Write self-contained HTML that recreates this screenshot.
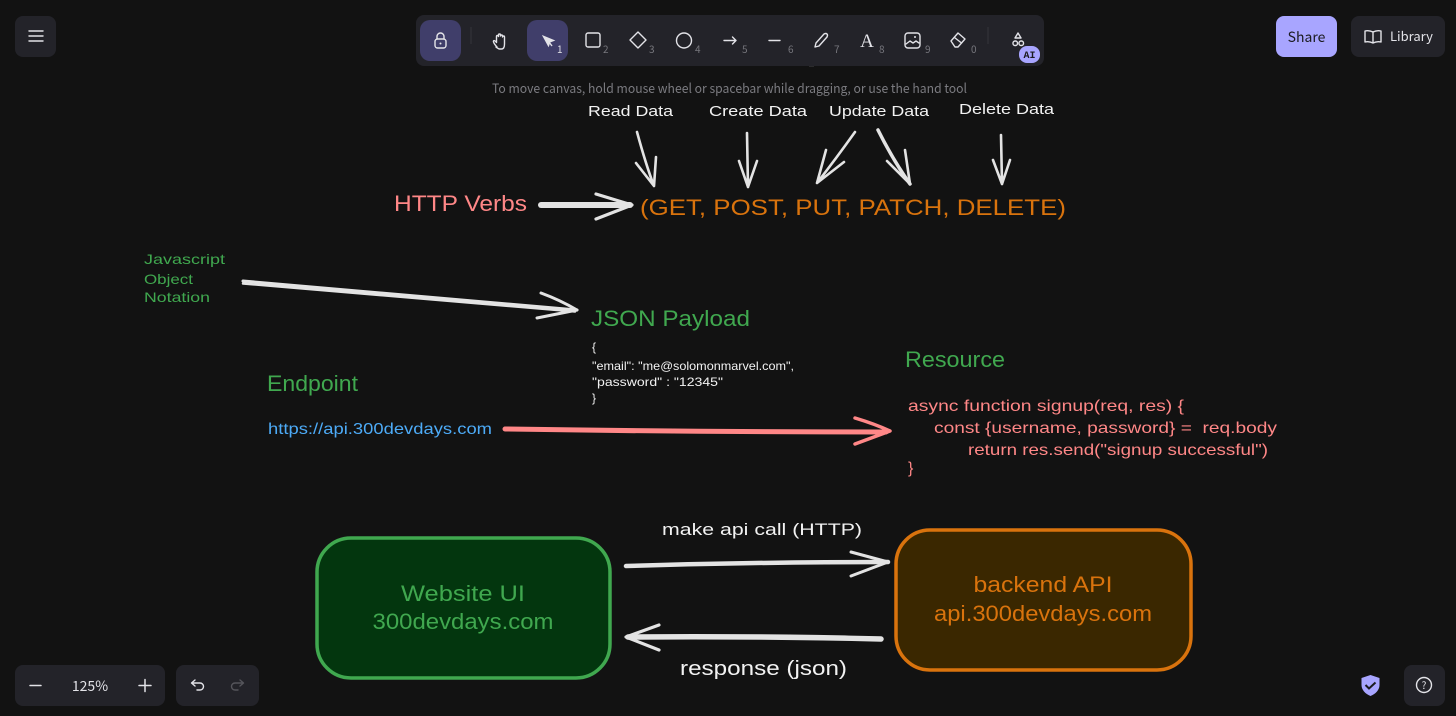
<!DOCTYPE html>
<html><head><meta charset="utf-8"><style>
html,body{margin:0;padding:0;background:#121212;width:1456px;height:716px;overflow:hidden}
svg{display:block}
.h{font-family:"Liberation Sans","DejaVu Sans",sans-serif}
.u{font-family:"Noto Sans CJK JP","Liberation Sans",sans-serif}
.ar{fill:none;stroke:#e3e3e3;stroke-linecap:round;stroke-linejoin:round}
.ic{fill:none;stroke:#e3e3e8;stroke-width:1.4;stroke-linecap:round;stroke-linejoin:round}
.n{font-size:10px;fill:#77777d}
</style></head><body>
<svg width="1456" height="716" viewBox="0 0 1456 716" xmlns="http://www.w3.org/2000/svg">
<rect width="1456" height="716" fill="#121212"/>

<!-- Toolbar -->
<rect x="15" y="16" width="41" height="41" rx="8" fill="#232329"/>
<path class="ic" d="M29 31h14M29 36h14M29 41h14"/>
<path d="M809 65.500h5" stroke="#77777d" stroke-width="1.500"/>
<rect x="416" y="15" width="628" height="51" rx="8" fill="#232329"/>
<rect x="420" y="20" width="41" height="41" rx="10" fill="#403e6a"/>
<rect x="527" y="20" width="41" height="41" rx="10" fill="#403e6a"/>
<path d="M471 27v17" stroke="#36363c"/><path d="M988 27v17" stroke="#36363c"/>
<rect x="435" y="39" width="11" height="9" rx="2.500" class="ic"/><path class="ic" d="M437 39v-2.500a3.500 3.500 0 0 1 7 0V39"/><circle cx="440.500" cy="43.500" r="1" fill="#e3e3e8"/>
<path class="ic" d="M497 47c-2-2-4-5-3.500-6s2 0 3 1.500v-6a1 1 0 0 1 2 0v-1.500a1 1 0 0 1 2 0v1a1 1 0 0 1 2 0v1a1 1 0 0 1 2 0v7c0 3-1 5-3 5h-2c-1 0-2-1-3.500-2z"/>
<path d="M543 36l11 4.500-4 1.500-1.500 4z" fill="#e3e3e8" stroke="#e3e3e8"/><path d="M549 42l3 4" stroke="#e3e3e8" stroke-width="1.400"/>
<text x="557" y="53" class="u" font-size="10" fill="#e3e3e8">1</text>
<rect x="586" y="33" width="14" height="14" rx="2" class="ic"/><text x="603" y="53" class="u n">2</text>
<path class="ic" d="M638 32l8 8-8 8-8-8z"/><text x="649" y="53" class="u n">3</text>
<circle cx="684" cy="40.500" r="7.500" class="ic"/><text x="695" y="53" class="u n">4</text>
<path class="ic" d="M724 40.500h12M732.500 37l3.500 3.500-3.500 3.500"/><text x="742" y="53" class="u n">5</text>
<path class="ic" d="M769 40.500h11"/><text x="788" y="53" class="u n">6</text>
<path class="ic" d="M815 47l1-4 8-9q2-1 3 0t0 3l-8 9z"/><text x="834" y="53" class="u n">7</text>
<text x="867" y="47" font-family="Liberation Serif" font-size="19" fill="#e3e3e8" text-anchor="middle">A</text><text x="879" y="53" class="u n">8</text>
<rect x="905" y="33" width="15" height="15" rx="3" class="ic"/><path class="ic" d="M906 44l4-3 3 2 3-2 3 2"/><circle cx="915" cy="37" r="1" fill="#e3e3e8"/><text x="925" y="53" class="u n">9</text>
<path class="ic" d="M951 41l7-8 7 6-7 8h-3z"/><path class="ic" d="M954.500 37.500l7 5.500"/><text x="971" y="53" class="u n">0</text>
<path class="ic" d="M1018 33l3 5h-6z"/><rect x="1013" y="41" width="4.500" height="4.500" rx="2" class="ic"/><rect x="1019" y="41" width="4.500" height="4.500" rx="2" class="ic"/>
<rect x="1019" y="46" width="21" height="17" rx="8" fill="#a8a5ff"/><text x="1029.500" y="58" font-family="Liberation Mono" font-weight="bold" font-size="10" fill="#1b1b1f" text-anchor="middle">AI</text>

<rect x="1276" y="16" width="61" height="41" rx="8" fill="#a8a5ff"/>
<text x="1306.500" y="42" class="u" font-size="14" fill="#1b1b1f" text-anchor="middle">Share</text>
<rect x="1351" y="16" width="94" height="41" rx="8" fill="#232329"/>
<path class="ic" d="M1373 32q-4-2-8-1v11q4-1 8 1q4-2 8-1V31q-4-1-8 1zM1373 32v11"/>
<text x="1390" y="41" class="u" font-size="13" fill="#e3e3e8">Library</text>

<text x="729.500" y="93" class="u" font-size="13" fill="#7b7b80" text-anchor="middle" textLength="475" lengthAdjust="spacingAndGlyphs">To move canvas, hold mouse wheel or spacebar while dragging, or use the hand tool</text>

<!-- Top labels -->
<g class="h" font-size="15" fill="#f2f2f2">
<text x="588" y="116" textLength="85" lengthAdjust="spacingAndGlyphs">Read Data</text>
<text x="709" y="116" textLength="98" lengthAdjust="spacingAndGlyphs">Create Data</text>
<text x="829" y="116" textLength="100" lengthAdjust="spacingAndGlyphs">Update Data</text>
<text x="959" y="114" textLength="95" lengthAdjust="spacingAndGlyphs">Delete Data</text>
</g>

<!-- Arrows top -->
<g class="ar" stroke-width="2.600">
<path d="M637 132Q646 165 654 186M636 163L654 186L656 157"/>
<path d="M747 133L748 187M739 161L748 187L757 161"/>
<path d="M855 132Q835 160 817 183M826 150L817 183L844 162"/>
<path d="M878 130Q893 160 910 184" stroke-width="3.500"/>
<path d="M887 161L910 184L905 150" stroke-width="2.600"/>
<path d="M1001 135L1002 184M993 160L1002 184L1010 160"/>
<path d="M541 205L630 205" stroke-width="6"/>
<path d="M596 194L632 205L596 219" stroke-width="3.200"/>
<path d="M243 281L577 310" stroke-width="3"/>
<path d="M243 283.500L575 311.500" stroke-width="2.500"/>
<path d="M541 293Q560 300 577 310L537 318" stroke-width="3"/>
<path d="M626 566Q760 562 888 562" stroke-width="4.500"/>
<path d="M851 552L888 562L851 576" stroke-width="3"/>
<path d="M881 639Q760 636 628 637" stroke-width="5.500"/>
<path d="M659 625L626 637L659 650" stroke-width="3.200"/>
</g>

<!-- Pink arrow -->
<g fill="none" stroke="#ff8787" stroke-linecap="round" stroke-linejoin="round">
<path d="M505 429Q700 432 886 432" stroke-width="5"/>
<path d="M855 418Q875 424 890 431L855 444" stroke-width="3.500"/>
</g>

<!-- Main text -->
<text x="394" y="211" class="h" font-size="22" fill="#ff8787" textLength="133" lengthAdjust="spacingAndGlyphs">HTTP Verbs</text>
<text x="640" y="215" class="h" font-size="22" fill="#d9730d" textLength="426" lengthAdjust="spacingAndGlyphs">(GET, POST, PUT, PATCH, DELETE)</text>

<g class="h" font-size="14" fill="#40a84f">
<text x="144" y="264" textLength="81" lengthAdjust="spacingAndGlyphs">Javascript</text>
<text x="144" y="284" textLength="49" lengthAdjust="spacingAndGlyphs">Object</text>
<text x="144" y="302" textLength="66" lengthAdjust="spacingAndGlyphs">Notation</text>
</g>

<text x="591" y="326" class="h" font-size="22" fill="#40a84f" textLength="159" lengthAdjust="spacingAndGlyphs">JSON Payload</text>
<text x="267" y="391" class="h" font-size="22" fill="#40a84f" textLength="91" lengthAdjust="spacingAndGlyphs">Endpoint</text>
<text x="905" y="367" class="h" font-size="22" fill="#40a84f" textLength="100" lengthAdjust="spacingAndGlyphs">Resource</text>

<g class="h" font-size="12" fill="#f2f2f2">
<text x="592" y="351">{</text>
<text x="592" y="370" textLength="202" lengthAdjust="spacingAndGlyphs">"email": "me@solomonmarvel.com",</text>
<text x="592" y="386" textLength="131" lengthAdjust="spacingAndGlyphs">"password" : "12345"</text>
<text x="592" y="402">}</text>
</g>

<text x="268" y="434" class="h" font-size="16" fill="#4dabf7" textLength="224" lengthAdjust="spacingAndGlyphs">https://api.300devdays.com</text>

<g class="h" font-size="16" fill="#ff8787">
<text x="908" y="411" textLength="276" lengthAdjust="spacingAndGlyphs">async function signup(req, res) {</text>
<text x="934" y="433" textLength="343" lengthAdjust="spacingAndGlyphs" xml:space="preserve">const {username, password} =  req.body</text>
<text x="968" y="455" textLength="300" lengthAdjust="spacingAndGlyphs">return res.send("signup successful")</text>
<text x="908" y="473">}</text>
</g>

<!-- Boxes -->
<rect x="317" y="538" width="293" height="140" rx="34" fill="#03360e" stroke="#40a84f" stroke-width="3.500"/>
<rect x="896" y="530" width="295" height="140" rx="34" fill="#3a2700" stroke="#d9730d" stroke-width="3.500"/>
<g class="h" font-size="22" text-anchor="middle">
<text x="463" y="601" fill="#40a84f" textLength="124" lengthAdjust="spacingAndGlyphs">Website UI</text>
<text x="463" y="629" fill="#40a84f" textLength="181" lengthAdjust="spacingAndGlyphs">300devdays.com</text>
<text x="1043" y="592" fill="#d9730d" textLength="139" lengthAdjust="spacingAndGlyphs">backend API</text>
<text x="1043" y="621" fill="#d9730d" textLength="218" lengthAdjust="spacingAndGlyphs">api.300devdays.com</text>
</g>
<text x="662" y="535" class="h" font-size="17" fill="#f2f2f2" textLength="200" lengthAdjust="spacingAndGlyphs">make api call (HTTP)</text>
<text x="680" y="675" class="h" font-size="20" fill="#f2f2f2" textLength="167" lengthAdjust="spacingAndGlyphs">response (json)</text>

<!-- Bottom UI -->
<rect x="15" y="665" width="150" height="41" rx="8" fill="#232329"/>
<path d="M30 685.500h11M139 685.500h12M145 679.500v12" stroke="#e3e3e8" stroke-width="1.500" stroke-linecap="round"/>
<text x="90" y="691" class="u" font-size="14" fill="#e3e3e8" text-anchor="middle">125%</text>
<rect x="176" y="665" width="83" height="41" rx="8" fill="#232329"/>
<path class="ic" d="M195 680l-3.500 3 3.500 3M192 683h8a3.500 3.500 0 0 1 0 7h-3"/>
<path class="ic" style="stroke:#55555b" d="M240 680l3.500 3-3.500 3M243 683h-8a3.500 3.500 0 0 0 0 7h3"/>
<path d="M1370.500 675l9 3v7c0 5-4 9-9 11-5-2-9-6-9-11v-7z" fill="#a8a5ff"/>
<path d="M1365.500 685l3.500 3.500 6.500-6" fill="none" stroke="#1b1b1f" stroke-width="2"/>
<rect x="1404" y="665" width="41" height="41" rx="8" fill="#232329"/>
<circle cx="1424" cy="685" r="7.500" class="ic"/>
<text x="1424" y="689" class="u" font-size="10" fill="#e3e3e8" text-anchor="middle">?</text>
</svg>
</body></html>
